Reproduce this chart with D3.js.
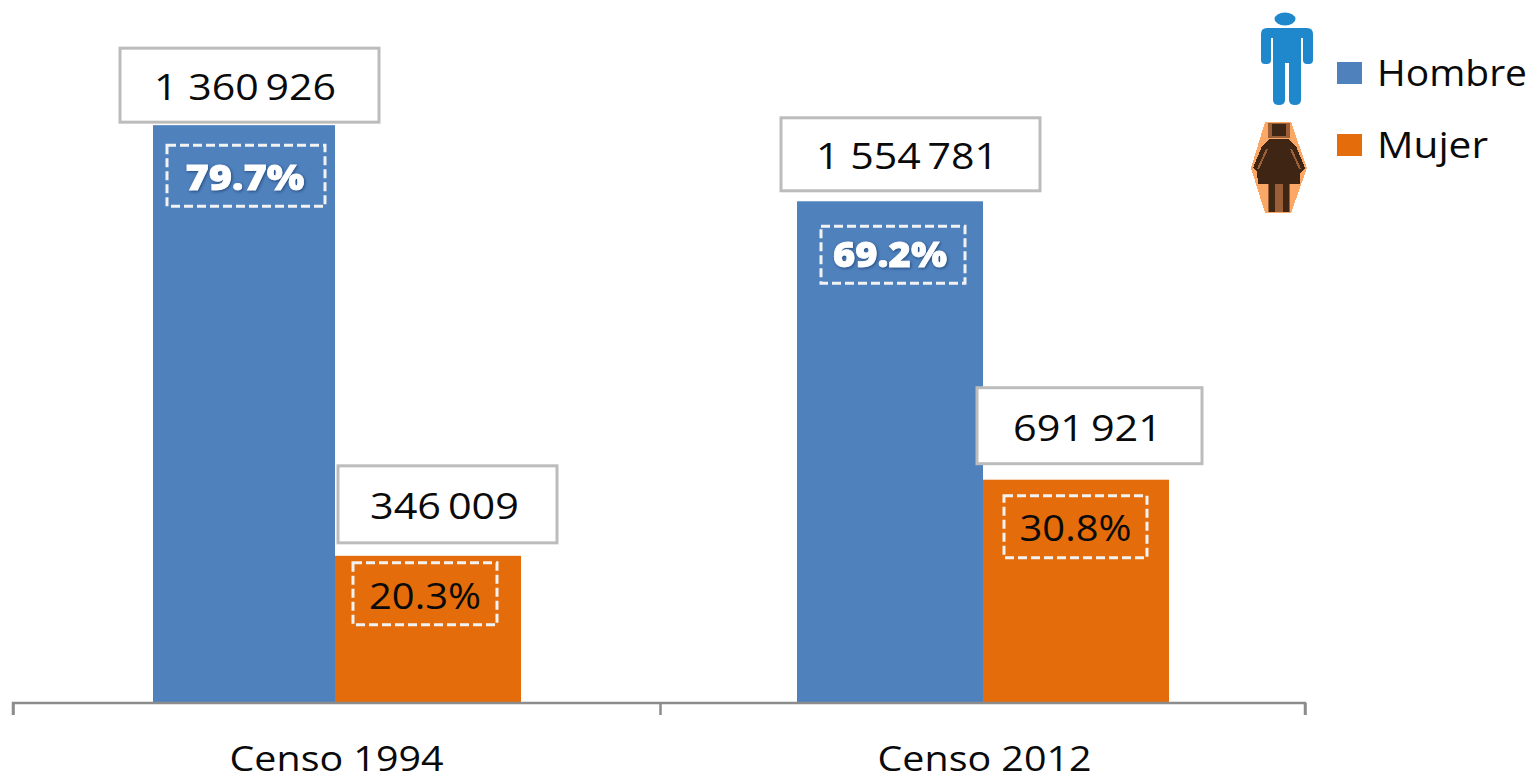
<!DOCTYPE html>
<html>
<head>
<meta charset="utf-8">
<script src="https://cdn.jsdelivr.net/npm/d3@7"></script>
<style>
html,body{margin:0;padding:0;background:#fff}
svg{display:block}
text{font-family:"Open Sans","DejaVu Sans",sans-serif;fill:#0a0a0a}
</style>
</head>
<body>
<svg id="chart" width="1533" height="773"></svg>
<script>
const categories = ["Censo 1994", "Censo 2012"];
const seriesNames = ["Hombre", "Mujer"];
const hombreCounts = [1360926, 1554781];
const mujerCounts = [346009, 691921];
const hombrePct = [79.7, 69.2];
const mujerPct = [20.3, 30.8];
const seriesColors = ["#4f81bd", "#e46c0a"];

// Layout only: where each callout sits relative to its bar (dx from bar centre, dy from bar top)
const countBox = {
  Hombre: [{dx: 7.5, dy: -77, w: 259, h: 74, tx: -4.5}, {dx: 20.5, dy: -83.5, w: 259, h: 73, tx: -3.5}],
  Mujer:  [{dx: 19.5, dy: -90, w: 219, h: 77, tx: -3}, {dx: 13.5, dy: -92, w: 225, h: 76, tx: -2}]
};
const pctBox = {
  Hombre: [{dx: 4, dy: 20, w: 158, h: 61, tx: -1, ty: 14}, {dx: 3, dy: 25, w: 144, h: 57, tx: -3, ty: 12}],
  Mujer:  [{dx: -3, dy: 7, w: 144, h: 62, tx: 0, ty: 15}, {dx: -0.5, dy: 16, w: 143, h: 62, tx: 0, ty: 14}]
};
const firstBarInset = 4; // the first bar's left edge is trimmed in the reference

const svg = d3.select("#chart");
const axisY = 703;
const x0 = d3.scaleBand().domain(categories).range([11, 1307]);
const x1 = d3.scaleBand().domain(seriesNames).range([-186, 186]);
const y = d3.scaleLinear().domain([0, 100]).range([axisY, axisY - 725]);

const fmtBase = d3.formatLocale({decimal: ".", thousands: "\u2009", grouping: [3], currency: ["", ""]}).format(",d");
const fmt = v => {
  const s = fmtBase(v);
  return v >= 1e6 ? s.replace("\u2009", " ") : s;
};

const rows = [];
seriesNames.forEach((name, si) => {
  categories.forEach((cat, ci) => {
    rows.push({
      name, si, cat, ci,
      count: (si === 0 ? hombreCounts : mujerCounts)[ci],
      pct: (si === 0 ? hombrePct : mujerPct)[ci]
    });
  });
});
const centre = d => x0(d.cat) + x0.bandwidth() / 2 + x1(d.name) + x1.bandwidth() / 2;
const inset = d => (d.si === 0 && d.ci === 0) ? firstBarInset : 0;

// bars
svg.append("g").selectAll("rect").data(rows).join("rect")
  .attr("x", d => centre(d) - x1.bandwidth() / 2 + inset(d))
  .attr("y", d => y(d.pct))
  .attr("width", d => x1.bandwidth() - inset(d))
  .attr("height", d => axisY - y(d.pct))
  .attr("fill", d => seriesColors[d.si]);

// axis
const axisG = svg.append("g").attr("transform", `translate(0,${axisY})`);
const edges = d3.scaleLinear().domain([0, 1, 2]).range([13, 660, 1305]);
axisG.append("g")
  .call(d3.axisBottom(edges).tickValues([0, 1, 2]).tickSize(12).tickFormat(""))
  .call(g => g.selectAll("path,line").attr("stroke", "#8c8c8c").attr("stroke-width", 2.5));
axisG.select(".domain").attr("d", "M13,12V0H1305V12");
axisG.selectAll(".cat").data(categories).join("text").attr("class", "cat")
  .attr("x", d => x0(d) + x0.bandwidth() / 2 + 1.5)
  .attr("y", 68)
  .attr("text-anchor", "middle")
  .attr("font-size", 35)
  .attr("textLength", 214)
  .attr("lengthAdjust", "spacingAndGlyphs")
  .text(d => d);

// count callouts
const counts = svg.append("g").selectAll("g").data(rows).join("g")
  .attr("transform", d => {
    const b = countBox[d.name][d.ci];
    return `translate(${centre(d) + b.dx},${y(d.pct) + b.dy})`;
  });
counts.append("rect")
  .attr("x", d => -countBox[d.name][d.ci].w / 2)
  .attr("width", d => countBox[d.name][d.ci].w)
  .attr("height", d => countBox[d.name][d.ci].h)
  .attr("fill", "#fff").attr("stroke", "#bcbcbc").attr("stroke-width", 3);
counts.append("text")
  .attr("x", d => countBox[d.name][d.ci].tx)
  .attr("y", d => countBox[d.name][d.ci].h / 2 + 15)
  .attr("text-anchor", "middle")
  .attr("font-size", 36)
  .attr("textLength", d => d.count >= 1e6 ? 182 : 149)
  .attr("lengthAdjust", "spacingAndGlyphs")
  .text(d => fmt(d.count));

// percent callouts
const pcts = svg.append("g").selectAll("g").data(rows).join("g")
  .attr("transform", d => {
    const b = pctBox[d.name][d.ci];
    return `translate(${centre(d) + b.dx},${y(d.pct) + b.dy})`;
  });
pcts.append("rect")
  .attr("x", d => -pctBox[d.name][d.ci].w / 2)
  .attr("width", d => pctBox[d.name][d.ci].w)
  .attr("height", d => pctBox[d.name][d.ci].h)
  .attr("fill", "none").attr("stroke", "#f2f2f2").attr("stroke-width", 3)
  .attr("stroke-dasharray", "9 4");
pcts.append("text")
  .attr("x", d => pctBox[d.name][d.ci].tx)
  .attr("y", d => pctBox[d.name][d.ci].h / 2 + pctBox[d.name][d.ci].ty)
  .attr("text-anchor", "middle")
  .attr("font-size", 36)
  .attr("font-weight", d => d.si === 0 ? 800 : 400)
  .attr("textLength", d => d.si === 0 ? (d.ci === 0 ? 119 : 114) : 112)
  .attr("lengthAdjust", "spacingAndGlyphs")
  .style("fill", d => d.si === 0 ? "#fff" : "#0a0a0a")
  .style("stroke", d => d.si === 0 ? "#fff" : "none")
  .style("stroke-width", d => d.si === 0 ? 0.8 : 0)
  .style("filter", d => d.si === 0 ? "drop-shadow(1px 1px 1.5px #244a7c)" : null)
  .text(d => d.pct.toFixed(1) + "%");

// legend
const legendY = d3.scalePoint().domain(seriesNames).range([62, 134]);
const legend = svg.append("g").selectAll("g").data(seriesNames).join("g")
  .attr("transform", d => `translate(1337,${legendY(d)})`);
legend.append("rect").attr("width", 25).attr("height", 22)
  .attr("fill", (d, i) => seriesColors[i]);
legend.append("text").attr("x", 40).attr("y", 24)
  .attr("font-size", 36)
  .attr("textLength", (d, i) => i === 0 ? 150 : 111)
  .attr("lengthAdjust", "spacingAndGlyphs")
  .text(d => d);

// pictograms
const man = svg.append("g").attr("fill", "#1f87cb").style("filter", "blur(0.5px)");
man.append("ellipse").attr("cx", 1285).attr("cy", 19).attr("rx", 10.5).attr("ry", 6.5);
man.append("path").attr("d",
  "M1267,28H1307Q1313,28 1313,34V60Q1313,64 1309,64H1307Q1303,64 1303,60V38H1301V100Q1301,105 1295,105Q1289,105 1289,100V63H1285V100Q1285,105 1279,105Q1273,105 1273,100V38H1271V60Q1271,64 1267,64H1265Q1261,64 1261,60V34Q1261,28 1267,28Z");
const dark = "#3f2514", mid = "#9a5f36";
const woman = svg.append("g").attr("shape-rendering", "crispEdges");
woman.append("path").attr("fill", "#fba766")
  .attr("d", "M1265,122H1291L1307,168L1291,213H1265L1251,168Z");
woman.append("rect").attr("x", 1268).attr("y", 123).attr("width", 22).attr("height", 15).attr("fill", mid);
woman.append("rect").attr("x", 1272).attr("y", 124).attr("width", 14).attr("height", 12).attr("fill", dark);
woman.append("path").attr("fill", dark)
  .attr("d", "M1270,139H1288L1296,146L1305,168L1300,173L1300,184H1258L1257,172L1253,168L1262,146Z");
woman.append("path").attr("fill", "none").attr("stroke", mid).attr("stroke-width", 2)
  .attr("d", "M1267,149L1258,169M1291,149L1300,169");
woman.append("rect").attr("x", 1268).attr("y", 184).attr("width", 22).attr("height", 28).attr("fill", mid);
woman.append("rect").attr("x", 1269).attr("y", 184).attr("width", 6).attr("height", 28).attr("fill", dark);
woman.append("rect").attr("x", 1283).attr("y", 184).attr("width", 6).attr("height", 28).attr("fill", dark);
</script>
</body>
</html>
